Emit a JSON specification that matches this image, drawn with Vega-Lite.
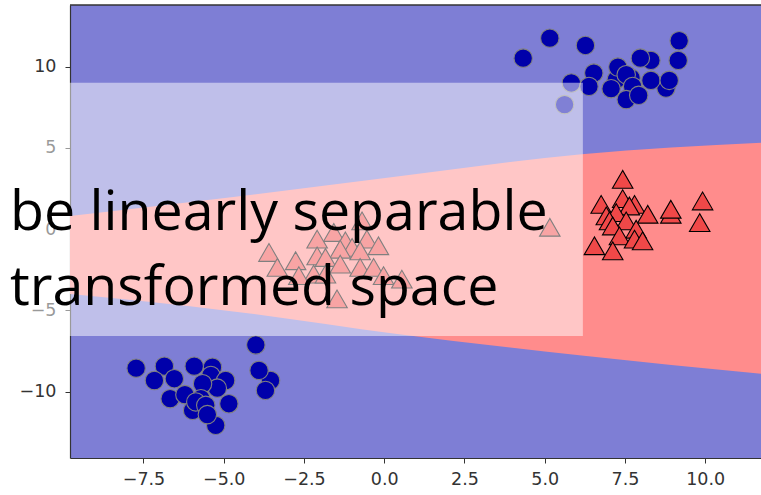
{
  "$schema": "https://vega.github.io/schema/vega-lite/v6.json",
  "autosize": "none",
  "padding": {"left": 70, "top": 5, "right": 0, "bottom": 37},
  "width": 691,
  "height": 453,
  "background": "white",
  "config": {
    "view": {"stroke": null, "fill": "#7e7ed5"},
    "axis": {
      "labelFont": "DejaVu Sans",
      "labelFontSize": 17.5,
      "labelColor": "#333333",
      "domainColor": "#333333",
      "domainWidth": 1.2,
      "tickColor": "#333333",
      "tickSize": 5,
      "tickWidth": 1,
      "grid": false,
      "title": null
    }
  },
  "datasets": {
    "region": [
      {"x": -9.79, "lo": -3.99, "hi": 0.82},
      {"x": -4.9, "lo": -5.01, "hi": 1.94},
      {"x": 0.4, "lo": -6.45, "hi": 3.25},
      {"x": 6.15, "lo": -7.77, "hi": 4.62},
      {"x": 11.74, "lo": -8.9, "hi": 5.32}
    ],
    "points": [
      {"x": 4.33, "y": 10.53, "cls": "c"},
      {"x": 5.16, "y": 11.76, "cls": "c"},
      {"x": 6.27, "y": 11.31, "cls": "c"},
      {"x": 9.19, "y": 11.6, "cls": "c"},
      {"x": 9.16, "y": 10.39, "cls": "c"},
      {"x": 8.31, "y": 10.39, "cls": "c"},
      {"x": 7.98, "y": 10.53, "cls": "c"},
      {"x": 7.69, "y": 9.31, "cls": "c"},
      {"x": 7.23, "y": 9.2, "cls": "c"},
      {"x": 7.28, "y": 9.98, "cls": "c"},
      {"x": 6.53, "y": 9.61, "cls": "c"},
      {"x": 7.54, "y": 9.51, "cls": "c"},
      {"x": 5.83, "y": 9.0, "cls": "c"},
      {"x": 6.38, "y": 8.79, "cls": "c"},
      {"x": 7.74, "y": 8.79, "cls": "c"},
      {"x": 7.07, "y": 8.65, "cls": "c"},
      {"x": 8.78, "y": 8.69, "cls": "c"},
      {"x": 8.31, "y": 9.16, "cls": "c"},
      {"x": 8.88, "y": 9.16, "cls": "c"},
      {"x": 7.54, "y": 7.98, "cls": "c"},
      {"x": 7.93, "y": 8.24, "cls": "c"},
      {"x": 5.62, "y": 7.67, "cls": "c"},
      {"x": -7.73, "y": -8.55, "cls": "c"},
      {"x": -6.85, "y": -8.43, "cls": "c"},
      {"x": -7.16, "y": -9.31, "cls": "c"},
      {"x": -5.35, "y": -8.49, "cls": "c"},
      {"x": -5.4, "y": -9.0, "cls": "c"},
      {"x": -6.54, "y": -9.2, "cls": "c"},
      {"x": -5.92, "y": -8.43, "cls": "c"},
      {"x": -4.94, "y": -9.31, "cls": "c"},
      {"x": -5.2, "y": -9.78, "cls": "c"},
      {"x": -5.66, "y": -9.51, "cls": "c"},
      {"x": -6.67, "y": -10.43, "cls": "c"},
      {"x": -5.71, "y": -10.43, "cls": "c"},
      {"x": -6.21, "y": -10.18, "cls": "c"},
      {"x": -5.97, "y": -11.15, "cls": "c"},
      {"x": -5.87, "y": -10.63, "cls": "c"},
      {"x": -5.56, "y": -10.84, "cls": "c"},
      {"x": -4.84, "y": -10.74, "cls": "c"},
      {"x": -5.25, "y": -12.07, "cls": "c"},
      {"x": -5.51, "y": -11.41, "cls": "c"},
      {"x": -4.0, "y": -7.12, "cls": "c"},
      {"x": -3.54, "y": -9.31, "cls": "c"},
      {"x": -3.9, "y": -8.69, "cls": "c"},
      {"x": -3.7, "y": -9.92, "cls": "c"},
      {"x": -0.69, "y": 0.51, "cls": "t"},
      {"x": -1.57, "y": -0.2, "cls": "t"},
      {"x": -2.09, "y": -0.61, "cls": "t"},
      {"x": -1.21, "y": -0.72, "cls": "t"},
      {"x": -0.54, "y": -0.61, "cls": "t"},
      {"x": -0.18, "y": -1.02, "cls": "t"},
      {"x": -1.0, "y": -1.12, "cls": "t"},
      {"x": -1.37, "y": -1.23, "cls": "t"},
      {"x": -0.75, "y": -1.33, "cls": "t"},
      {"x": -3.59, "y": -1.43, "cls": "t"},
      {"x": -2.09, "y": -1.64, "cls": "t"},
      {"x": -1.83, "y": -1.74, "cls": "t"},
      {"x": -2.76, "y": -1.94, "cls": "t"},
      {"x": -1.37, "y": -2.15, "cls": "t"},
      {"x": -3.33, "y": -2.35, "cls": "t"},
      {"x": -0.75, "y": -2.35, "cls": "t"},
      {"x": -0.33, "y": -2.35, "cls": "t"},
      {"x": -2.2, "y": -2.76, "cls": "t"},
      {"x": -1.83, "y": -2.76, "cls": "t"},
      {"x": -2.66, "y": -2.86, "cls": "t"},
      {"x": -0.02, "y": -2.86, "cls": "t"},
      {"x": 0.55, "y": -3.07, "cls": "t"},
      {"x": -1.47, "y": -4.29, "cls": "t"},
      {"x": 5.16, "y": 0.12, "cls": "t"},
      {"x": 7.43, "y": 3.07, "cls": "t"},
      {"x": 7.8, "y": 1.53, "cls": "t"},
      {"x": 7.43, "y": 1.88, "cls": "t"},
      {"x": 7.64, "y": 1.43, "cls": "t"},
      {"x": 6.76, "y": 1.53, "cls": "t"},
      {"x": 7.23, "y": 1.02, "cls": "t"},
      {"x": 8.93, "y": 0.92, "cls": "t"},
      {"x": 8.93, "y": 1.23, "cls": "t"},
      {"x": 9.92, "y": 1.74, "cls": "t"},
      {"x": 9.83, "y": 0.41, "cls": "t"},
      {"x": 6.92, "y": 0.82, "cls": "t"},
      {"x": 7.02, "y": 0.51, "cls": "t"},
      {"x": 8.21, "y": 0.92, "cls": "t"},
      {"x": 7.54, "y": 0.51, "cls": "t"},
      {"x": 7.12, "y": 0.2, "cls": "t"},
      {"x": 7.85, "y": 0.0, "cls": "t"},
      {"x": 7.33, "y": -0.41, "cls": "t"},
      {"x": 7.8, "y": -0.61, "cls": "t"},
      {"x": 8.05, "y": -0.72, "cls": "t"},
      {"x": 6.55, "y": -1.02, "cls": "t"},
      {"x": 7.12, "y": -1.33, "cls": "t"}
    ],
    "overlay": [
      {"x1": -12.5, "x2": 6.19, "y1": 9.02, "y2": -6.57}
    ],
    "labels": [
      {"x": -11.66, "y": -0.05, "text": "be linearly separable"},
      {"x": -11.66, "y": -4.66, "text": "transformed space"}
    ],
    "frame": [
      {"y": 13.8}
    ]
  },
  "layer": [
    {
      "data": {"name": "region"},
      "mark": {"type": "area", "color": "#ff8c8c", "clip": true, "interpolate": "monotone"},
      "encoding": {
        "x": {
          "field": "x", "type": "quantitative",
          "scale": {"domain": [-9.79, 11.74], "nice": false, "zero": false},
          "axis": {"values": [-7.5, -5, -2.5, 0, 2.5, 5, 7.5, 10], "format": ".1f", "labelPadding": 7}
        },
        "y": {
          "field": "lo", "type": "quantitative",
          "scale": {"domain": [-14.08, 13.8], "nice": false, "zero": false},
          "axis": {"values": [-10, -5, 0, 5, 10], "format": "d", "labelPadding": 9}
        },
        "y2": {"field": "hi"}
      }
    },
    {
      "data": {"name": "points"},
      "mark": {"type": "point", "filled": true, "strokeWidth": 1.1, "opacity": 1},
      "encoding": {
        "x": {"field": "x", "type": "quantitative"},
        "y": {"field": "y", "type": "quantitative"},
        "shape": {"field": "cls", "type": "nominal", "scale": {"domain": ["c", "t"], "range": ["circle", "triangle-up"]}, "legend": null},
        "fill": {"field": "cls", "type": "nominal", "scale": {"domain": ["c", "t"], "range": ["#0000aa", "#f04848"]}, "legend": null},
        "stroke": {"field": "cls", "type": "nominal", "scale": {"domain": ["c", "t"], "range": ["#808080", "#000000"]}, "legend": null},
        "size": {"field": "cls", "type": "nominal", "scale": {"domain": ["c", "t"], "range": [340, 420]}, "legend": null}
      }
    },
    {
      "data": {"name": "frame"},
      "mark": {"type": "rule", "color": "#333333", "strokeWidth": 1.5},
      "encoding": {
        "y": {"field": "y", "type": "quantitative"}
      }
    },
    {
      "data": {"name": "overlay"},
      "mark": {"type": "rect", "color": "white", "opacity": 0.5},
      "encoding": {
        "x": {"field": "x1", "type": "quantitative"},
        "x2": {"field": "x2"},
        "y": {"field": "y1", "type": "quantitative"},
        "y2": {"field": "y2"}
      }
    },
    {
      "data": {"name": "labels"},
      "mark": {"type": "text", "align": "left", "baseline": "alphabetic", "font": "Open Sans", "fontSize": 55.5, "color": "black"},
      "encoding": {
        "x": {"field": "x", "type": "quantitative"},
        "y": {"field": "y", "type": "quantitative"},
        "text": {"field": "text"}
      }
    }
  ]
}
